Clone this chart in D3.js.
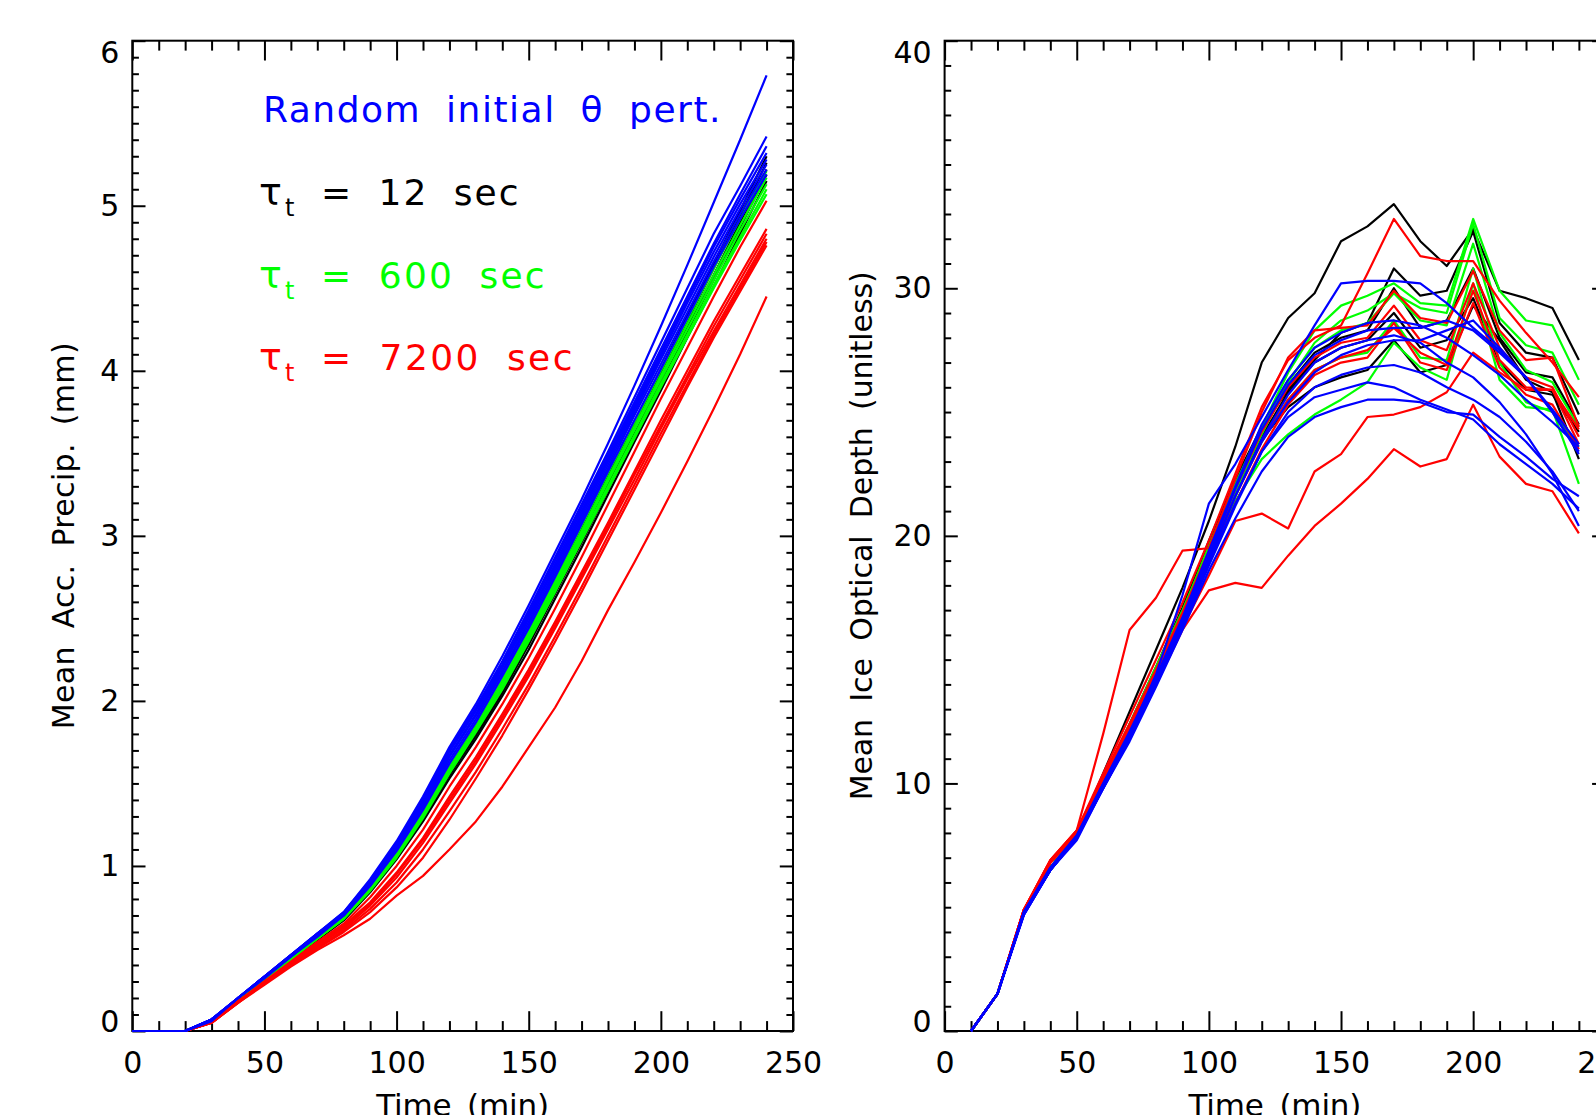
<!DOCTYPE html>
<html>
<head>
<meta charset="utf-8">
<script src="https://cdnjs.cloudflare.com/ajax/libs/d3/7.8.5/d3.min.js"></script>
<style>
  body { margin: 0; background: #fff; }
  svg { display: block; background: #fff; }
  text { font-family: 'DejaVu Sans', sans-serif; }
</style>
</head>
<body>
<svg id="fig"></svg>
<script>
// ---- data ----
const precipTimes = [0,10,20,30,40,50,60,70,80,90,100,110,120,130,140,150,160,170,180,190,200,210,220,230,240];
const depthTimes = [10,20,30,40,50,60,70,80,90,100,110,120,130,140,150,160,170,180,190,200,210,220,230,240];

// mean accumulated precip (mm)
const precipBlack = [
  [0,0,0,0.06,0.19,0.32,0.45,0.57,0.69,0.87,1.08,1.33,1.60,1.85,2.12,2.42,2.73,3.05,3.37,3.69,4.01,4.33,4.65,4.97,5.30],
  [0,0,0,0.06,0.19,0.32,0.44,0.57,0.69,0.86,1.07,1.31,1.58,1.83,2.10,2.39,2.70,3.02,3.34,3.66,3.98,4.30,4.62,4.94,5.26],
  [0,0,0,0.06,0.19,0.31,0.44,0.56,0.68,0.85,1.06,1.30,1.56,1.81,2.07,2.36,2.67,2.99,3.31,3.63,3.95,4.27,4.58,4.90,5.22],
  [0,0,0,0.06,0.19,0.31,0.44,0.56,0.68,0.85,1.05,1.29,1.55,1.79,2.05,2.34,2.65,2.96,3.28,3.60,3.92,4.24,4.55,4.87,5.19],
  [0,0,0,0.06,0.19,0.31,0.43,0.55,0.67,0.84,1.04,1.27,1.53,1.77,2.03,2.31,2.62,2.93,3.25,3.57,3.88,4.20,4.51,4.83,5.15]
];
const precipGreen = [
  [0,0,0,0.06,0.19,0.32,0.45,0.57,0.69,0.87,1.08,1.33,1.61,1.86,2.13,2.43,2.74,3.06,3.38,3.69,4.00,4.31,4.62,4.92,5.21],
  [0,0,0,0.06,0.19,0.32,0.44,0.57,0.69,0.86,1.07,1.32,1.59,1.84,2.11,2.41,2.72,3.03,3.35,3.66,3.97,4.28,4.58,4.88,5.17],
  [0,0,0,0.06,0.19,0.31,0.44,0.56,0.68,0.86,1.06,1.31,1.58,1.83,2.10,2.39,2.70,3.01,3.33,3.64,3.95,4.25,4.55,4.85,5.13],
  [0,0,0,0.06,0.19,0.31,0.44,0.56,0.68,0.85,1.06,1.30,1.57,1.82,2.09,2.38,2.68,2.99,3.30,3.61,3.92,4.22,4.52,4.81,5.10],
  [0,0,0,0.06,0.19,0.31,0.43,0.56,0.68,0.85,1.05,1.29,1.56,1.81,2.07,2.36,2.66,2.97,3.28,3.59,3.90,4.20,4.50,4.79,5.07]
];
const precipRed = [
  [0,0,0,0.05,0.18,0.30,0.42,0.54,0.65,0.81,1.00,1.22,1.48,1.72,1.98,2.26,2.56,2.87,3.19,3.51,3.83,4.14,4.45,4.75,5.03],
  [0,0,0,0.05,0.18,0.30,0.41,0.53,0.64,0.78,0.96,1.17,1.42,1.66,1.92,2.19,2.48,2.78,3.08,3.39,3.70,4.00,4.30,4.58,4.86],
  [0,0,0,0.05,0.18,0.29,0.41,0.52,0.63,0.77,0.95,1.16,1.40,1.64,1.90,2.17,2.46,2.76,3.06,3.37,3.67,3.97,4.27,4.55,4.83],
  [0,0,0,0.05,0.18,0.29,0.40,0.52,0.62,0.76,0.93,1.14,1.38,1.62,1.88,2.15,2.44,2.74,3.04,3.34,3.65,3.95,4.24,4.52,4.80],
  [0,0,0,0.05,0.17,0.29,0.40,0.51,0.61,0.74,0.90,1.10,1.33,1.57,1.83,2.10,2.39,2.69,3.00,3.31,3.62,3.92,4.22,4.50,4.78],
  [0,0,0,0.05,0.17,0.29,0.40,0.50,0.60,0.72,0.87,1.05,1.28,1.53,1.79,2.07,2.36,2.66,2.97,3.28,3.59,3.90,4.20,4.48,4.76],
  [0,0,0,0.05,0.17,0.28,0.39,0.49,0.58,0.68,0.82,0.94,1.10,1.27,1.48,1.72,1.96,2.24,2.55,2.84,3.14,3.45,3.77,4.10,4.45]
];
const precipBlue = [
  [0,0,0,0.07,0.20,0.33,0.46,0.59,0.72,0.92,1.15,1.42,1.72,1.98,2.27,2.58,2.90,3.22,3.56,3.91,4.27,4.64,5.02,5.40,5.79],
  [0,0,0,0.07,0.20,0.33,0.46,0.59,0.72,0.91,1.14,1.40,1.71,1.96,2.24,2.55,2.87,3.19,3.51,3.84,4.17,4.50,4.83,5.12,5.42],
  [0,0,0,0.07,0.20,0.33,0.46,0.59,0.71,0.90,1.13,1.39,1.70,1.95,2.22,2.53,2.85,3.17,3.49,3.81,4.13,4.45,4.77,5.07,5.36],
  [0,0,0,0.07,0.20,0.33,0.46,0.59,0.71,0.90,1.12,1.38,1.69,1.94,2.21,2.51,2.83,3.15,3.47,3.79,4.11,4.43,4.75,5.04,5.32],
  [0,0,0,0.07,0.20,0.33,0.46,0.58,0.71,0.89,1.11,1.37,1.67,1.92,2.20,2.50,2.81,3.13,3.45,3.77,4.09,4.41,4.72,5.01,5.28],
  [0,0,0,0.07,0.20,0.33,0.45,0.58,0.70,0.89,1.10,1.36,1.66,1.91,2.18,2.48,2.79,3.11,3.43,3.75,4.07,4.38,4.69,4.98,5.25],
  [0,0,0,0.07,0.20,0.32,0.45,0.58,0.70,0.88,1.10,1.35,1.64,1.89,2.17,2.46,2.77,3.09,3.41,3.73,4.04,4.35,4.66,4.95,5.22],
  [0,0,0,0.06,0.20,0.32,0.45,0.57,0.70,0.88,1.09,1.34,1.62,1.87,2.15,2.44,2.75,3.07,3.39,3.70,4.01,4.32,4.63,4.92,5.19]
];

// mean ice optical depth (unitless)
const depthBlack = [
  [0,1.5,4.8,6.6,7.9,10.4,12.9,15.4,17.9,20.6,23.6,27.0,28.8,29.8,31.9,32.5,33.4,31.9,30.9,32.4,29.9,29.6,29.2,27.1],
  [0,1.5,4.8,6.6,7.9,10.2,12.4,14.7,17.1,19.8,22.3,24.4,25.9,27.1,28.2,28.6,30.8,29.7,29.9,32.3,28.6,27.4,27.2,24.9],
  [0,1.5,4.8,6.5,7.8,10.1,12.2,14.4,16.8,19.4,21.9,23.9,25.2,26.0,26.4,26.7,27.9,26.6,26.9,29.3,27.9,26.3,25.8,23.1],
  [0,1.5,4.8,6.6,7.9,10.2,12.3,14.6,17.0,19.7,22.1,24.2,26.1,27.4,28.0,28.3,30.0,28.4,28.7,30.8,28.0,26.6,26.4,24.5],
  [0,1.5,4.8,6.5,7.8,10.1,12.2,14.4,16.8,19.4,21.8,24.0,25.8,27.0,27.6,27.9,29.0,27.6,27.9,29.6,27.0,25.9,25.7,24.2]
];
const depthGreen = [
  [0,1.5,4.8,6.6,7.9,10.2,12.4,14.7,17.0,19.5,22.0,24.4,26.6,28.3,29.3,29.7,30.2,29.4,29.3,32.8,29.9,28.7,28.5,26.3],
  [0,1.5,4.8,6.6,7.9,10.2,12.3,14.6,16.9,19.4,21.8,24.1,26.2,27.8,28.7,29.1,29.8,29.2,29.0,32.6,28.8,27.7,27.4,25.3],
  [0,1.5,4.8,6.5,7.8,10.1,12.2,14.4,16.7,19.2,21.4,23.1,24.1,24.9,25.5,26.2,27.8,26.8,26.3,30.2,26.3,25.2,25.1,22.1],
  [0,1.5,4.8,6.6,7.9,10.2,12.3,14.5,16.9,19.6,22.1,24.4,26.3,27.6,28.3,28.6,29.8,28.7,28.5,31.8,28.2,26.7,26.2,24.4],
  [0,1.5,4.8,6.5,7.8,10.1,12.2,14.4,16.8,19.4,21.7,23.8,25.5,26.7,27.2,27.4,28.7,27.2,27.1,30.8,27.0,25.4,25.0,23.6]
];
const depthRed = [
  [0,1.5,4.9,6.9,8.1,10.4,12.7,15.0,17.3,19.8,22.5,25.2,27.1,28.0,28.5,30.6,32.8,31.3,31.1,31.1,29.5,28.2,27.0,25.6],
  [0,1.5,4.9,6.9,8.1,12.0,16.2,17.5,19.4,19.5,22.3,25.0,27.2,28.3,28.4,28.5,29.9,28.8,28.6,30.7,28.3,27.1,27.2,24.4],
  [0,1.5,4.9,6.8,8.0,10.2,12.3,14.5,16.8,19.3,21.6,23.8,25.5,26.7,27.2,27.5,28.4,27.4,26.9,29.9,27.1,26.0,25.9,23.7],
  [0,1.5,4.9,6.8,8.0,10.1,12.1,14.2,16.3,18.4,20.6,20.9,20.3,22.6,23.3,24.8,24.9,25.2,25.8,27.4,26.6,25.9,25.9,24.3],
  [0,1.5,4.9,6.8,8.0,10.1,12.0,14.0,16.2,17.8,18.1,17.9,19.2,20.4,21.3,22.3,23.5,22.8,23.1,25.3,23.2,22.1,21.8,20.1],
  [0,1.5,4.9,6.9,8.1,10.3,12.4,14.6,16.9,19.4,21.9,24.2,26.0,27.2,27.8,28.0,29.3,27.9,27.5,30.2,27.6,26.4,26.0,24.0],
  [0,1.5,4.8,6.8,8.0,10.2,12.2,14.4,16.6,19.0,21.3,23.5,25.3,26.5,27.0,27.2,28.6,27.0,26.7,29.4,26.8,25.7,25.3,23.5]
];
const depthBlue = [
  [0,1.5,4.8,6.6,7.9,10.0,12.0,14.4,17.6,21.3,22.9,24.8,26.7,28.5,30.2,30.3,30.3,30.2,29.4,28.4,27.5,26.4,25.1,23.7],
  [0,1.5,4.8,6.5,7.8,9.9,11.9,14.2,16.6,19.2,21.9,24.3,26.1,27.3,27.9,28.3,28.4,28.4,28.7,28.3,27.4,26.4,25.0,23.4],
  [0,1.5,4.7,6.5,7.8,9.9,11.9,14.1,16.5,19.0,21.6,23.9,25.7,27.0,27.6,27.9,28.1,27.8,27.0,26.4,25.4,24.1,22.5,20.4],
  [0,1.5,4.7,6.5,7.8,9.8,11.8,14.0,16.3,18.8,21.2,23.4,24.8,25.6,25.9,26.2,26.0,25.5,25.1,24.7,23.7,22.9,22.1,21.1],
  [0,1.5,4.7,6.5,7.7,9.8,11.7,13.9,16.2,18.6,20.7,22.6,24.0,24.8,25.2,25.5,25.5,25.4,25.0,24.9,24.0,23.2,22.3,21.6],
  [0,1.5,4.8,6.6,7.9,10.0,12.1,14.3,16.7,19.4,22.0,24.5,26.3,27.6,28.2,28.6,28.7,28.5,28.0,27.3,26.5,25.5,24.6,23.6],
  [0,1.5,4.8,6.5,7.8,9.9,11.9,14.2,16.6,19.1,21.6,23.8,25.4,26.6,27.3,27.7,27.9,27.9,28.3,28.7,27.6,26.4,25.0,23.3],
  [0,1.5,4.7,6.5,7.8,9.8,11.8,14.0,16.4,18.9,21.3,23.4,25.0,26.0,26.5,26.8,26.9,26.6,26.0,25.5,24.8,23.8,22.6,21.0]
];

// legend / categories, in drawing order
const groupColors = ['#000000', '#00ff00', '#ff0000', '#0000ff'];
const tauValues = ['12', '600', '7200'];
const randomLabel = 'Random initial \u03b8 pert.';

const xTicks = [0, 50, 100, 150, 200, 250];
const precipTicks = [0, 1, 2, 3, 4, 5, 6];
const depthTicks = [0, 10, 20, 30, 40];

// ---- chart ----
class LineChart {
    constructor (config, data) {
        this.config = {
            parent: config.parent,
            left: config.left,
            top: config.top,
            width: config.width || 660,
            height: config.height || 990,
            xticks: config.xticks,
            yticks: config.yticks,
            xminor: config.xminor,
            yminor: config.yminor,
            xlabel: config.xlabel || '',
            ylabel: config.ylabel || '',
            xlabel_len: config.xlabel_len,
            ylabel_len: config.ylabel_len,
            ylabel_off: config.ylabel_off
        };
        this.data = data;
        this.init();
    }

    init() {
        let self = this;
        const c = self.config;

        self.chart = d3.select(c.parent).append('g')
            .attr('transform', `translate(${c.left}, ${c.top})`);

        self.xscale = d3.scaleLinear()
            .domain(d3.extent(c.xticks))
            .range([0, c.width]);

        self.yscale = d3.scaleLinear()
            .domain(d3.extent(c.yticks))
            .range([c.height, 0]);

        // ticks point inward on all four sides (IDL style)
        const xmaj = 0.02 * c.height, ymaj = 0.02 * c.width;

        self.add_axis(d3.axisBottom(self.xscale).tickValues(c.xticks).tickSize(-xmaj)
            .tickPadding(21).tickFormat(d3.format('d')), `translate(0, ${c.height})`);
        self.add_axis(d3.axisBottom(self.xscale).tickValues(c.xminor).tickSize(-xmaj / 2)
            .tickFormat(''), `translate(0, ${c.height})`);
        self.add_axis(d3.axisTop(self.xscale).tickValues(c.xticks).tickSize(-xmaj).tickFormat(''), null);
        self.add_axis(d3.axisTop(self.xscale).tickValues(c.xminor).tickSize(-xmaj / 2).tickFormat(''), null);

        const ymin = c.yticks[0], ymax = c.yticks[c.yticks.length - 1];
        const yax = self.add_axis(d3.axisLeft(self.yscale).tickValues(c.yticks).tickSize(-ymaj)
            .tickPadding(13).tickFormat(d3.format('d')), null);
        yax.selectAll('text')
            .attr('dy', d => d === ymin ? '0em' : d === ymax ? '0.73em' : '0.32em');
        self.add_axis(d3.axisLeft(self.yscale).tickValues(c.yminor).tickSize(-ymaj / 2).tickFormat(''), null);
        self.add_axis(d3.axisRight(self.yscale).tickValues(c.yticks).tickSize(-ymaj).tickFormat(''),
            `translate(${c.width}, 0)`);
        self.add_axis(d3.axisRight(self.yscale).tickValues(c.yminor).tickSize(-ymaj / 2).tickFormat(''),
            `translate(${c.width}, 0)`);

        self.chart.append('rect')
            .attr('width', c.width)
            .attr('height', c.height)
            .attr('fill', 'none')
            .attr('stroke', '#000')
            .attr('stroke-width', 2);

        self.chart.append('text')
            .attr('x', c.width / 2)
            .attr('y', c.height + 85)
            .attr('text-anchor', 'middle')
            .attr('font-size', 31)
            .style('word-spacing', '6px')
            .attr('textLength', c.xlabel_len)
            .attr('lengthAdjust', 'spacing')
            .text(c.xlabel);

        self.chart.append('text')
            .attr('transform', `translate(${-c.ylabel_off}, ${c.height / 2}) rotate(-90)`)
            .attr('text-anchor', 'middle')
            .attr('font-size', 30)
            .style('word-spacing', '8px')
            .attr('textLength', c.ylabel_len)
            .attr('lengthAdjust', 'spacing')
            .text(c.ylabel);
    }

    add_axis(axis, transform) {
        let self = this;
        const g = self.chart.append('g');
        if (transform) g.attr('transform', transform);
        g.call(axis.tickSizeOuter(0));
        g.select('.domain').remove();
        g.attr('font-size', 30).attr('font-family', "'DejaVu Sans', sans-serif");
        g.selectAll('line').attr('stroke-width', 2);
        g.selectAll('text').attr('fill', '#000');
        return g;
    }

    render() {
        let self = this;

        const line = d3.line()
            .x(d => self.xscale(d[0]))
            .y(d => self.yscale(d[1]));

        self.chart.append('g')
            .selectAll('path')
            .data(self.data)
            .join('path')
            .attr('d', d => line(d.times.map((t, i) => [t, d.values[i]])))
            .attr('fill', 'none')
            .attr('stroke', d => d.color)
            .attr('stroke-width', 2.2)
            .attr('stroke-linejoin', 'round');
    }
}

function build_series(times, groups) {
    const out = [];
    groups.forEach((g, gi) => {
        g.forEach(values => out.push({ color: groupColors[gi], times: times, values: values }));
    });
    return out;
}

const svg = d3.select('#fig').attr('width', 1596).attr('height', 1115);

const xminor = d3.range(0, 251, 10).filter(d => d % 50 !== 0);

const left = new LineChart({
    parent: '#fig',
    left: 132.3, top: 40.7, width: 660.7, height: 990.3,
    xticks: xTicks, yticks: precipTicks,
    xminor: xminor,
    yminor: d3.range(0, 61).filter(i => i % 10 !== 0).map(i => i / 10),
    xlabel: 'Time (min)', xlabel_len: 173,
    ylabel: 'Mean Acc. Precip. (mm)', ylabel_len: 387, ylabel_off: 58
}, build_series(precipTimes, [precipBlack, precipGreen, precipRed, precipBlue]));
left.render();

const right = new LineChart({
    parent: '#fig',
    left: 944.6, top: 40.7, width: 660.7, height: 990.3,
    xticks: xTicks, yticks: depthTicks,
    xminor: xminor,
    yminor: d3.range(0, 41).filter(i => i % 10 !== 0),
    xlabel: 'Time (min)', xlabel_len: 173,
    ylabel: 'Mean Ice Optical Depth (unitless)', ylabel_len: 529, ylabel_off: 73
}, build_series(depthTimes, [depthBlack, depthGreen, depthRed, depthBlue]));
right.render();

// legend (upper left of the precip panel)
svg.append('text')
    .attr('x', 263)
    .attr('y', 122)
    .attr('font-size', 36)
    .attr('fill', groupColors[3])
    .style('letter-spacing', '1.5px')
    .style('word-spacing', '12px')
    .attr('textLength', 459)
    .attr('lengthAdjust', 'spacing')
    .text(randomLabel);

const tauWidths = [199, 225, 253];
tauValues.forEach((v, i) => {
    const y = 205 + i * 82.5;
    const g = svg.append('g').attr('fill', groupColors[i]);
    g.append('text')
        .attr('x', 259).attr('y', y)
        .attr('font-size', 38)
        .text('\u03c4');
    g.append('text')
        .attr('x', 285).attr('y', y + 11)
        .attr('font-size', 24)
        .text('t');
    g.append('text')
        .attr('x', 321).attr('y', y)
        .attr('font-size', 36)
        .style('letter-spacing', '1.5px')
        .style('word-spacing', '12px')
        .attr('textLength', tauWidths[i])
        .attr('lengthAdjust', 'spacing')
        .text(`= ${v} sec`);
});
</script>
</body>
</html>
